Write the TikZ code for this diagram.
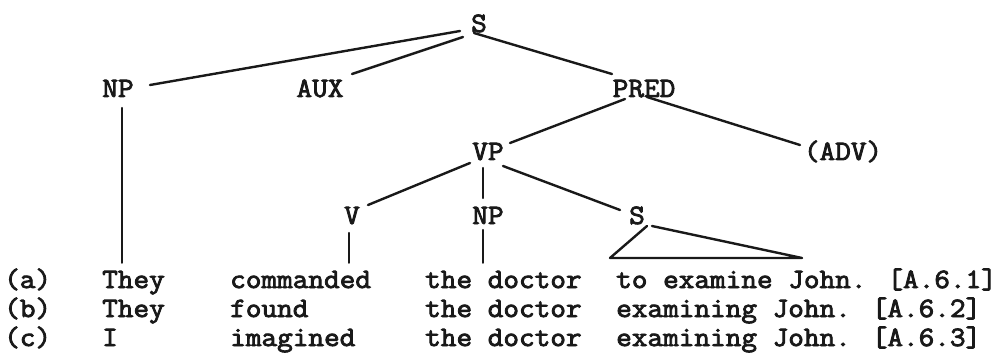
\documentclass[tikz,border=0pt]{standalone}
\usepackage{fontspec}
\usetikzlibrary{calc}
\newfontfamily\typewriter[FakeStretch=1.085,FakeBold=3]{Latin Modern Mono}
\definecolor{ink}{gray}{0.1}
\begin{document}
\begin{tikzpicture}[x=1pt,y=-1pt,
  lbl/.style={font=\typewriter\fontsize{28}{28}\selectfont, text=ink,
              inner sep=0pt, text height=17.1pt, text depth=0pt, anchor=base},
  word/.style={lbl, anchor=base west},
  branch/.style={draw=ink, line width=2.4pt, line cap=round, line join=round}]
\useasboundingbox (0,0) rectangle (1003,358);

% category labels of the tree
\node[lbl] (S0)   at (479,32)  {S};
\node[lbl] (NP1)  at (118,97)  {NP};
\node[lbl] (AUX)  at (320,97)  {AUX};
\node[lbl] (PRED) at (644,97)  {PRED};
\node[lbl] (VP)   at (488,160) {VP};
\node[lbl] (ADV)  at (843,160) {(ADV)};
\node[lbl] (V)    at (352,224) {V};
\node[lbl] (NP2)  at (488,224) {NP};
\node[lbl] (S2)   at (637,224) {S};

% the three example sentences, set in columns
\node[word] (la)  at (4,288)   {(a)};
\node[word] (wa1) at (102,288) {They};
\node[word] (wa2) at (230,288) {commanded};
\node[word] (wa3) at (425,288) {the doctor};
\node[word] (wa4) at (616,288) {to examine John. [A.6.1]};

\node[word] (lb)  at (4,317)   {(b)};
\node[word] (wb1) at (102,317) {They};
\node[word] (wb2) at (230,317) {found};
\node[word] (wb3) at (425,317) {the doctor};
\node[word] (wb4) at (616,317) {examining John. [A.6.2]};

\node[word] (lc)  at (4,346)   {(c)};
\node[word] (wc1) at (102,346) {I};
\node[word] (wc2) at (230,346) {imagined};
\node[word] (wc3) at (425,346) {the doctor};
\node[word] (wc4) at (616,346) {examining John. [A.6.3]};

% branches
\draw[branch] ([shift={(-19,-1)}]S0.base) -- ([shift={(32,-12)}]NP1.base);
\draw[branch] ([shift={(-16,5)}]S0.base)  -- ([shift={(32,-23)}]AUX.base);
\draw[branch] ([shift={(-5,1)}]S0.base)   -- ([shift={(-32,-23)}]PRED.base);
\draw[branch] ([shift={(-19,2)}]PRED.base) -- ([shift={(22,-17)}]VP.base);
\draw[branch] ([shift={(3,0)}]PRED.base)   -- ([shift={(-43,-15)}]ADV.base);
\draw[branch] ([shift={(-18,3)}]VP.base) -- ([shift={(16,-19)}]V.base);
\draw[branch] ([shift={(-5,8)}]VP.base)  -- ([shift={(-5,-26)}]NP2.base);
\draw[branch] ([shift={(15,6)}]VP.base)  -- ([shift={(-17,-14)}]S2.base);

% links down to the words
\draw[branch] ([shift={(4,11)}]NP1.base) -- ($(NP1.base |- wa1.north)+(4,-8)$);
\draw[branch] ([shift={(-3,9)}]V.base)   -- ($(V.base |- wa2.north)+(-3,-8)$);
\draw[branch] ([shift={(-5,6)}]NP2.base) -- ($(NP2.base |- wa3.north)+(-5,-8)$);

% unanalysed embedded sentence
\coordinate (triL) at (610,258);
\coordinate (triR) at (802,258);
\draw[branch] ([shift={(10,2)}]S2.base) -- (triL) -- (triR) -- ([shift={(15,2)}]S2.base);
\end{tikzpicture}
\end{document}
